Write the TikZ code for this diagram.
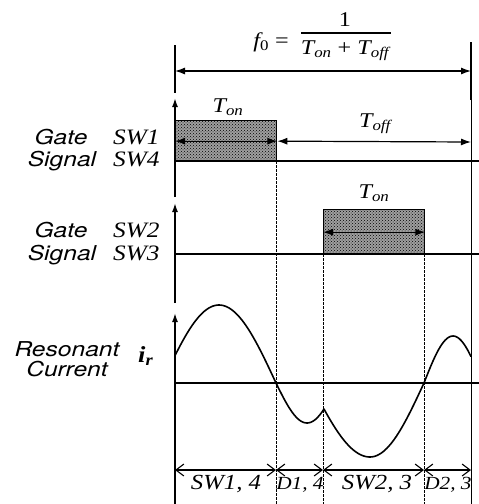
\documentclass[tikz,border=0pt]{standalone}
\usepackage{fontspec}
\setmainfont{Liberation Serif}
\newfontfamily\sansst[FakeStretch=1.2]{TeX Gyre Heros}
\newfontfamily\serifst[FakeStretch=1.15]{Liberation Serif}
\usetikzlibrary{arrows.meta,patterns}
\newcommand\lblf{\sansst\itshape\fontsize{20.5}{23}\selectfont}
\newcommand\swf{\serifst\itshape\fontsize{22}{24}\selectfont}
\newcommand\bwf{\serifst\itshape\fontsize{21.5}{24}\selectfont}
\newcommand\tf{\serifst\itshape\fontsize{21}{24}\selectfont}
\newcommand\Tsb[1]{T\textsubscript{#1}}
\begin{document}
\begin{tikzpicture}[x=1pt,y=-1pt,
  ax/.style={line width=1.6pt,-{Latex[length=9pt,width=6pt]}},
  baseln/.style={line width=1.3pt},
  guide/.style={line width=0.6pt,dash pattern=on 3pt off 1pt},
  dimarr/.style={line width=1.2pt,{Latex[length=10pt,width=7pt]}-{Latex[length=10pt,width=7pt]}},
  bdim/.style={line width=1.1pt,{Straight Barb[length=8pt,width=12pt]}-{Straight Barb[length=8pt,width=12pt]}},
  pulse/.style={draw,line width=1.3pt,inner sep=0pt,preaction={fill=gray!75},pattern=crosshatch dots,pattern color=black},
  wave/.style={line width=1.6pt,line join=round},
  lbl/.style={font=\lblf,inner sep=0pt},
  sw/.style={font=\swf,inner sep=0pt},
  bw/.style={font=\bwf,inner sep=0pt},
  tlab/.style={font=\tf,inner sep=0pt}]
\useasboundingbox (0,0) rectangle (479,504);

% coordinates
\coordinate (tlA) at (175,45);  \coordinate (tlB) at (175,93);
\coordinate (trA) at (471,42);  \coordinate (trB) at (471,100); \coordinate (trC) at (471,504);
\coordinate (fL) at (175,71);   \coordinate (fR) at (471,71);

% frequency formula
\node[tlab,anchor=base east] (f0) at (289,47) {f\textsubscript{\upshape 0} {\upshape =}};
\node[tlab] (num) at (345,20) {\upshape 1};
\node[tlab] (den) at (345,51) {\Tsb{on} {\upshape +} \Tsb{off}};
\coordinate (barL) at (301,33); \coordinate (barR) at (391,33);
\draw[line width=1.1pt] (barL) -- (barR);
\draw[line width=1.6pt] (tlA) -- (tlB);
\draw[line width=1.6pt] (trA) -- (trB);
\draw[line width=0.8pt] (trB) -- (trC);
\draw[dimarr] (fL) -- (fR);

% ---- gate SW1/SW4
\coordinate (g1a) at (175,197); \coordinate (g1b) at (175,98);
\coordinate (b1L) at (175,161); \coordinate (b1R) at (479,161);
\node[pulse,minimum width=101pt,minimum height=41pt,anchor=north west] (p1) at (175,120) {};
\draw[baseln] (b1L) -- (b1R);
\draw[ax] (g1a) -- (g1b);
\coordinate (off1) at (471,142);
\draw[dimarr] (p1.west) -- (p1.east);
\draw[dimarr] (p1.east) -- (off1);
\node[tlab] (ton1) at (228,107) {\Tsb{on}};
\node[tlab] (toff) at (375,124) {\Tsb{off}};
\node[lbl,anchor=base] (gate1) at (61,144) {Gate};
\node[lbl,anchor=base] (sig1) at (62,166) {Signal};
\node[sw,anchor=base west] (sw1) at (113,144) {SW1};
\node[sw,anchor=base west] (sw4) at (113,166) {SW4};

% ---- gate SW2/SW3
\coordinate (g2a) at (175,303); \coordinate (g2b) at (175,203);
\coordinate (b2L) at (175,254); \coordinate (b2R) at (479,254);
\node[pulse,minimum width=101pt,minimum height=45pt,anchor=north west] (p2) at (323,209) {};
\draw[baseln] (b2L) -- (b2R);
\draw[ax] (g2a) -- (g2b);
\draw[dimarr] (p2.west) -- (p2.east);
\node[tlab] (ton2) at (374,193) {\Tsb{on}};
\node[lbl,anchor=base] (gate2) at (61,237) {Gate};
\node[lbl,anchor=base] (sig2) at (62,260) {Signal};
\node[sw,anchor=base west] (sw2) at (113,237) {SW2};
\node[sw,anchor=base west] (sw3) at (113,260) {SW3};

% ---- guides
\coordinate (v1a) at (276,161); \coordinate (v1b) at (276,504);
\coordinate (v2a) at (323,254); \coordinate (v2b) at (323,504);
\coordinate (v3a) at (424,254); \coordinate (v3b) at (424,504);
\draw[guide] (v1a) -- (v1b);
\draw[guide] (v2a) -- (v2b);
\draw[guide] (v3a) -- (v3b);

% ---- resonant current
\coordinate (g3a) at (175,504); \coordinate (g3b) at (175,313);
\coordinate (b3L) at (175,383); \coordinate (b3R) at (479,383);
\draw[baseln] (b3L) -- (b3R);
\draw[ax] (g3a) -- (g3b);
\node[lbl,align=center] (res) at (67,359) {Resonant\\[-3pt]Current};
\node[sw,anchor=base west,font=\serifst\itshape\fontsize{23}{26}\selectfont] (ir) at (138,362) {\textbf{i}\textsubscript{\textbf{r}}};
\draw[wave] plot[domain=175:276,samples=60] (\x,{383-78*sin((\x-162)/114*180)})
  -- plot[domain=276:324,samples=30] (\x,{383+40*sin((\x-276)/31*90)})
  -- plot[domain=324:370,samples=30] (\x,{383+74*cos((\x-370)*1.509)})
  -- plot[domain=370:424,samples=30] (\x,{383+74*cos((\x-370)*1.667)})
  -- plot[domain=424:471,samples=30] (\x,{383-47*sin((\x-424)/29*90)});

% ---- bottom intervals
\coordinate (m0) at (175,470); \coordinate (m1) at (276,470);
\coordinate (m2) at (323,470); \coordinate (m3) at (424,470);
\coordinate (m4) at (471,470);
\draw[bdim] (m0) -- (m1);
\draw[bdim] (m1) -- (m2);
\draw[bdim] (m2) -- (m3);
\draw[bdim] (m3) -- (m4);
\node[bw,anchor=base] (l1) at (226,489) {SW1, 4};
\node[bw,anchor=base,font=\serifst\itshape\fontsize{18.5}{22}\selectfont] (l2) at (300,489) {D1, 4};
\node[bw,anchor=base] (l3) at (377,489) {SW2, 3};
\node[bw,anchor=base,font=\serifst\itshape\fontsize{18.5}{22}\selectfont] (l4) at (448,489) {D2, 3};
\end{tikzpicture}
\end{document}
